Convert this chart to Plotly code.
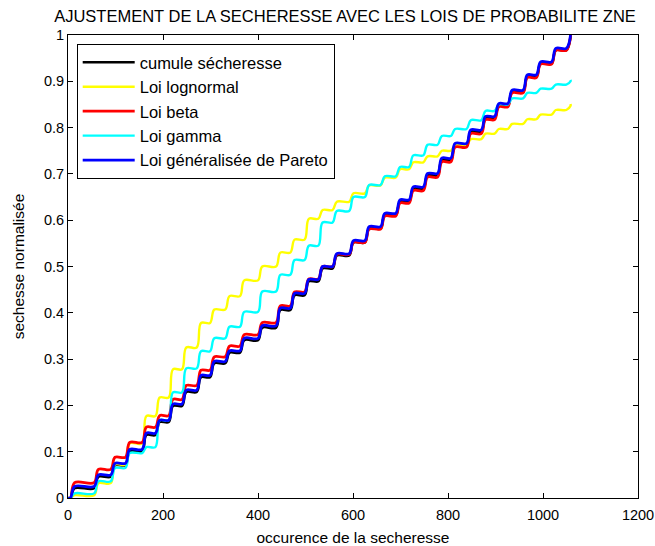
import plotly.graph_objects as go

# Shared step positions (occurrence index where each curve jumps)
steps_x = [0, 5, 55, 90, 121, 156, 184, 212, 240, 271, 299, 331, 362, 400, 438, 468, 498,
           527, 557, 592, 625, 658, 690, 718, 748, 778, 806, 839, 870, 898, 926, 958, 986,
           1018, 1049]
end_x = 1058

# Level reached after each step
cumule = [0.0, 0.021, 0.046, 0.071, 0.101, 0.136, 0.164, 0.199, 0.229, 0.261, 0.291, 0.314,
          0.341, 0.368, 0.406, 0.438, 0.468, 0.496, 0.524, 0.552, 0.582, 0.611, 0.640, 0.668,
          0.697, 0.730, 0.762, 0.791, 0.820, 0.848, 0.877, 0.910, 0.938, 0.967, 0.996]
cumule_end = 1.0

lognormal = [0.0, 0.006, 0.032, 0.072, 0.118, 0.177, 0.217, 0.278, 0.325, 0.378, 0.407, 0.436,
             0.470, 0.500, 0.530, 0.558, 0.603, 0.622, 0.640, 0.658, 0.675, 0.692, 0.710, 0.725,
             0.738, 0.750, 0.762, 0.775, 0.787, 0.797, 0.808, 0.818, 0.828, 0.838, 0.847]
lognormal_end = 0.851

beta = [0.0, 0.033, 0.062, 0.088, 0.120, 0.153, 0.178, 0.213, 0.243, 0.276, 0.305, 0.328,
        0.353, 0.379, 0.415, 0.445, 0.473, 0.500, 0.526, 0.552, 0.581, 0.609, 0.637, 0.664,
        0.693, 0.726, 0.758, 0.787, 0.817, 0.845, 0.875, 0.908, 0.937, 0.967, 0.997]
beta_end = 1.0

gamma = [0.0, 0.010, 0.036, 0.065, 0.097, 0.110, 0.168, 0.228, 0.280, 0.317, 0.345, 0.370,
         0.402, 0.446, 0.482, 0.514, 0.545, 0.595, 0.620, 0.650, 0.676, 0.695, 0.715, 0.740,
         0.763, 0.782, 0.797, 0.816, 0.836, 0.850, 0.863, 0.875, 0.884, 0.893, 0.900]
gamma_end = 0.903

pareto = [0.0, 0.025, 0.050, 0.075, 0.105, 0.140, 0.168, 0.203, 0.233, 0.265, 0.295, 0.318,
          0.345, 0.372, 0.410, 0.442, 0.472, 0.500, 0.528, 0.556, 0.586, 0.615, 0.644, 0.672,
          0.701, 0.734, 0.766, 0.795, 0.824, 0.852, 0.881, 0.914, 0.942, 0.971, 1.0]
pareto_end = 1.0

names = ["cumule sécheresse", "Loi lognormal", "Loi beta", "Loi gamma",
         "Loi généralisée de Pareto"]
colors = ["#000000", "#FFFF00", "#FF0000", "#00FFFF", "#0000FF"]
series = [(cumule, cumule_end), (lognormal, lognormal_end), (beta, beta_end),
          (gamma, gamma_end), (pareto, pareto_end)]
widths = [2.6, 2.4, 2.8, 2.4, 2.8]

RISE = 9


def staircase(levels, last):
    xs, ys = [], []
    for i, (sx, lv) in enumerate(zip(steps_x, levels)):
        if i == 0:
            xs.append(sx)
            ys.append(lv)
        else:
            xs.append(sx)
            ys.append(levels[i - 1])
            xs.append(sx + RISE)
            ys.append(lv)
    xs.append(end_x)
    ys.append(last)
    return xs, ys


fig = go.Figure()
for i, (name, col, (lv, last), w) in enumerate(zip(names, colors, series, widths)):
    xs, ys = staircase(lv, last)
    fig.add_trace(go.Scatter(x=xs, y=ys, mode="lines", name=name, legendgroup=f"g{i}",
                             line=dict(color=col, width=w, shape="spline", smoothing=1.0)))

FONT = "Arial, 'Liberation Sans', Helvetica, sans-serif"
axis_common = dict(showline=True, linecolor="black", linewidth=1, mirror="allticks",
                   ticks="inside", ticklen=5, tickcolor="black", showgrid=False,
                   zeroline=False, automargin=False,
                   tickfont=dict(family=FONT, size=14.5, color="black"))

fig.update_layout(
    width=655, height=546,
    margin=dict(l=68, r=17, t=35, b=48),
    paper_bgcolor="white", plot_bgcolor="white",
    font=dict(family=FONT, size=15, color="black"),
    title=dict(text="AJUSTEMENT DE LA SECHERESSE AVEC LES LOIS DE PROBABILITE ZNE",
               x=(345 - 68) / 570, xref="paper", xanchor="center", y=1 - 16 / 546,
               yanchor="middle", font=dict(family=FONT, size=16.5, color="black")),
    xaxis=dict(range=[0, 1200], tickvals=[0, 200, 400, 600, 800, 1000, 1200],
               ticklabelstandoff=4,
               title=dict(text="occurence de la secheresse", standoff=9,
                          font=dict(family=FONT, size=15.5)), **axis_common),
    yaxis=dict(range=[0, 1], tickvals=[i / 10 for i in range(11)],
               ticktext=["0", "0.1", "0.2", "0.3", "0.4", "0.5", "0.6", "0.7", "0.8", "0.9", "1"],
               title=dict(text="sechesse normalisée", standoff=15,
                          font=dict(family=FONT, size=15.5)), **axis_common),
    legend=dict(x=(76.7 - 68) / 570, y=1 - (44 - 35) / 463, xanchor="left", yanchor="top",
                bgcolor="white", bordercolor="black", borderwidth=1,
                font=dict(family=FONT, size=16.5), tracegroupgap=0, itemwidth=52,
                traceorder="grouped"),
    showlegend=True,
)

fig.write_html("out.html")
